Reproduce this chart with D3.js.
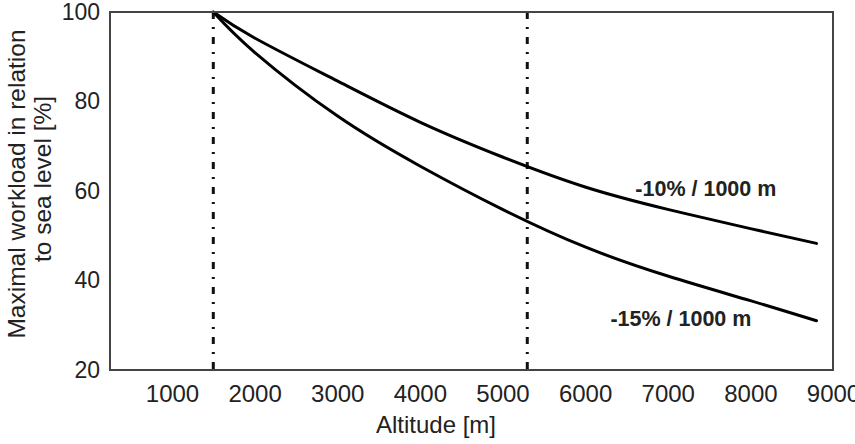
<!DOCTYPE html>
<html>
<head>
<meta charset="utf-8">
<script src="https://cdn.jsdelivr.net/npm/d3@7"></script>
<style>
  body { margin: 0; background: #fff; }
  text { font-family: "Liberation Sans", Arial, sans-serif; fill: #222; }
</style>
</head>
<body>
<div id="chart"></div>
<script>
var altitudes = [1500, 2000, 3000, 4000, 5000, 6000, 7000, 8000, 8800];
// maximal workload in % of sea level
var drop10 = [100, 94.2, 84.6, 75.4, 67.6, 60.9, 55.9, 51.6, 48.3];
var drop15 = [100, 91.0, 76.8, 65.6, 55.9, 47.5, 41.0, 35.5, 31.0];
var seriesNames = ["-10% / 1000 m", "-15% / 1000 m"];
// where each curve label sits (altitude, value of its baseline)
var labelAlt = [6608, 6306];
var labelVal = [58.9, 29.8];
// dash-dot reference altitudes
var markers = [1500, 5300];
var xTicks = [1000, 2000, 3000, 4000, 5000, 6000, 7000, 8000, 9000];
var yTicks = [20, 40, 60, 80, 100];

var width = 855, height = 444;
var margin = {top: 12, right: 22, bottom: 74, left: 110};

var svg = d3.select("#chart").append("svg")
	.attr("width", width)
	.attr("height", height);

var x = d3.scaleLinear().domain([250, 9000]).range([margin.left, width - margin.right]);
var y = d3.scaleLinear().domain([20, 100]).range([height - margin.bottom, margin.top]);

// axes (no tick marks, just labels)
svg.append("g")
	.attr("transform", "translate(0," + (height - margin.bottom) + ")")
	.call(d3.axisBottom(x).tickValues(xTicks).tickSize(0).tickPadding(15).tickFormat(d3.format("d")))
	.call(function(g) { g.select(".domain").remove(); })
	.selectAll("text")
	.style("font-size", "24px")
	.attr("fill", "#222");

svg.append("g")
	.attr("transform", "translate(" + margin.left + ",0)")
	.call(d3.axisLeft(y).tickValues(yTicks).tickSize(0).tickPadding(10))
	.call(function(g) { g.select(".domain").remove(); })
	.selectAll("text")
	.style("font-size", "23px")
	.attr("fill", "#222");

// vertical dash-dot lines
svg.selectAll(".marker")
	.data(markers)
	.enter().append("line")
	.attr("class", "marker")
	.attr("x1", function(d) { return x(d); })
	.attr("x2", function(d) { return x(d); })
	.attr("y1", y(100))
	.attr("y2", y(20))
	.attr("stroke", "#111")
	.attr("stroke-width", 3)
	.attr("stroke-dasharray", "7,8,2,8");

// curves
var line = d3.line()
	.x(function(d) { return x(d[0]); })
	.y(function(d) { return y(d[1]); })
	.curve(d3.curveNatural);

[drop10, drop15].forEach(function(vals) {
	svg.append("path")
		.datum(altitudes.map(function(a, i) { return [a, vals[i]]; }))
		.attr("d", line)
		.attr("fill", "none")
		.attr("stroke", "#000")
		.attr("stroke-width", 3)
		.attr("stroke-linecap", "round");
});

// frame
svg.append("rect")
	.attr("x", margin.left)
	.attr("y", margin.top)
	.attr("width", width - margin.left - margin.right)
	.attr("height", height - margin.top - margin.bottom)
	.attr("fill", "none")
	.attr("stroke", "#444")
	.attr("stroke-width", 2);

// curve labels
seriesNames.forEach(function(name, i) {
	svg.append("text")
		.attr("x", x(labelAlt[i]))
		.attr("y", y(labelVal[i]))
		.style("font-size", "21.5px")
		.style("font-weight", "bold")
		.text(name);
});

// axis titles
svg.append("text")
	.attr("x", 436)
	.attr("y", 433)
	.attr("text-anchor", "middle")
	.style("font-size", "24px")
	.text("Altitude [m]");

var yTitle = svg.append("text")
	.attr("transform", "rotate(-90)")
	.attr("text-anchor", "middle")
	.style("font-size", "24.5px");
yTitle.append("tspan").attr("x", -184).attr("y", 25).text("Maximal workload in relation");
yTitle.append("tspan").attr("x", -179).attr("y", 51).text("to sea level [%]");
</script>
</body>
</html>
